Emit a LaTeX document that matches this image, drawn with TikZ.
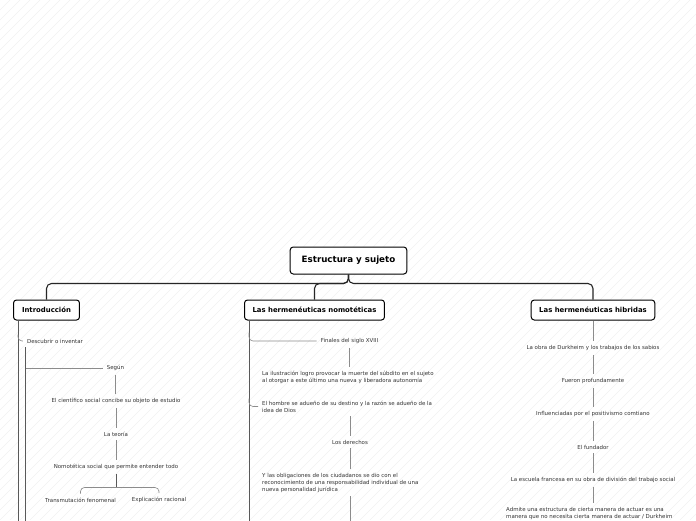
\documentclass[tikz,border=0pt]{standalone}
\usepackage{fontspec}
\setmainfont{DejaVu Sans}
\usetikzlibrary{positioning}

\tikzset{
  topic/.style={draw, line width=1pt, rounded corners=3pt, fill=white, font=\fontsize{6.9}{8}\selectfont\bfseries, inner xsep=8pt, minimum height=20pt},
  leaf/.style={font=\fontsize{5.45}{7}\selectfont, text=black!80, inner sep=4pt},
  para/.style={leaf, align=left, anchor=west},
  trunk/.style={line width=1.1pt, black!85, rounded corners=5pt},
  stem/.style={line width=0.8pt, black!65},
  branch/.style={line width=0.6pt, black!45},
  hatch/.style={black!9, line width=0.3pt},
}

\begin{document}
\begin{tikzpicture}[x=1pt, y=-1pt]
    \useasboundingbox (0,0) rectangle (696,520);
    \clip (0,0) rectangle (696,520);
    \fill[white] (0,0) rectangle (696,520);
    \foreach \i in {-520,-510,...,700}
        \draw[hatch] (\i,520) -- ++(520,-520);

    % root and main topics
    \node (root) [topic, font=\fontsize{8.7}{10}\selectfont\bfseries, inner xsep=11.5pt, minimum height=27pt] at (348.5,260.5) {Estructura y sujeto};
    \node (intro) [topic, inner xsep=8.5pt] at (46.5,310) {Introducción};
    \node (nomo) [topic] at (314.5,310) {Las hermenéuticas nomotéticas};
    \node (hib) [topic] at (593,310) {Las hermenéuticas hibridas};

    \draw[trunk] (root.south) -- ++(0,9) -| (intro.north);
    \draw[trunk] (root.south) -- ++(0,9) -| (nomo.north);
    \draw[trunk] (root.south) -- ++(0,9) -| (hib.north);

    % Introduccion
    \coordinate (introline) at ([xshift=5pt]intro.south west);
    \coordinate (introend) at (introline |- 0,522);
    \node (desc) [leaf] at (55,341) {Descubrir o inventar};
    \node (segun) [leaf] at (115.5,368) {Según};
    \node (cient) [leaf] at (116,401) {El científico social concibe su objeto de estudio};
    \node (teoria) [leaf] at (116,434) {La teoría};
    \node (nomot) [leaf] at (116,467) {Nomotética social que permite entender todo};
    \node (transm) [leaf] at (80.5,500) {Transmutación fenomenal};
    \node (explic) [leaf] at (159,500) {Explicación racional};
    \coordinate (forky) at (116,487.5);
    \coordinate (descline) at ([xshift=3pt]desc.south west);
    \coordinate (descend) at (descline |- 0,522);

    \draw[stem] (introline) -- (introend);
    \draw[branch, rounded corners=4pt] ([yshift=-14pt]introline) |- (desc.west);
    \draw[stem] (descline) -- (descend);
    \draw[branch] (descline |- segun.west) -- (segun.west);
    \draw[branch] (segun.south) -- (segun.south |- cient.north);
    \draw[branch] (cient.south) -- (teoria.north);
    \draw[branch] (teoria.south) -- (nomot.north);
    \draw[stem] (nomot.south) -- (forky);
    \draw[branch, rounded corners=4pt] (transm.north) |- (forky) -| (explic.north);

    % Hermeneuticas nomoteticas
    \coordinate (nomoline) at ([xshift=5pt]nomo.south west);
    \coordinate (nomoend) at (nomoline |- 0,522);
    \node (finales) [leaf] at (349.5,341) {Finales del siglo XVIII};
    \node (ilus) [para] at (258,377.5) {La ilustración logro provocar la muerte del súbdito en el sujeto\\al otorgar a este último una nueva y liberadora autonomía};
    \node (hombre) [para] at (258,406.5) {El hombre se adueño de su destino y la razón se adueño de la\\idea de Dios};
    \node (derechos) [leaf] at (350,442) {Los derechos};
    \node (oblig) [para] at (258,482.5) {Y las obligaciones de los ciudadanos se dio con el\\reconocimiento de una responsabilidad individual de una\\nueva personalidad jurídica};
    \coordinate (obligend) at (derechos |- 0,522);

    \draw[stem] (nomoline) -- (nomoend);
    \draw[branch, rounded corners=4pt] ([yshift=-12pt]nomoline) |- (finales.west);
    \draw[branch, rounded corners=4pt] ([yshift=-78pt]nomoline) |- (hombre.west);
    \draw[branch] (finales.south) -- (finales.south |- ilus.north);
    \draw[branch] (hombre.south -| derechos) -- (derechos.north);
    \draw[branch] (derechos.south) -- (derechos.south |- oblig.north);
    \draw[branch] (derechos |- oblig.south) -- (obligend);

    % Hermeneuticas hibridas
    \node (obra) [leaf] at (593,348) {La obra de Durkheim y los trabajos de los sabios};
    \node (fueron) [leaf] at (593,381) {Fueron profundamente};
    \node (influ) [leaf] at (593,414) {Influenciadas por el positivismo comtiano};
    \node (fund) [leaf] at (593,447) {El fundador};
    \node (escuela) [leaf] at (593,480) {La escuela francesa en su obra de división del trabajo social};
    \node (admite) [para] at (502,513.5) {Admite una estructura de cierta manera de actuar es una\\manera que no necesita cierta manera de actuar / Durkheim};

    \draw[branch] (hib.south) -- (obra.north);
    \draw[branch] (obra.south) -- (fueron.north);
    \draw[branch] (fueron.south) -- (influ.north);
    \draw[branch] (influ.south) -- (fund.north);
    \draw[branch] (fund.south) -- (escuela.north);
    \draw[branch] (escuela.south) -- (escuela.south |- admite.north);
\end{tikzpicture}
\end{document}
